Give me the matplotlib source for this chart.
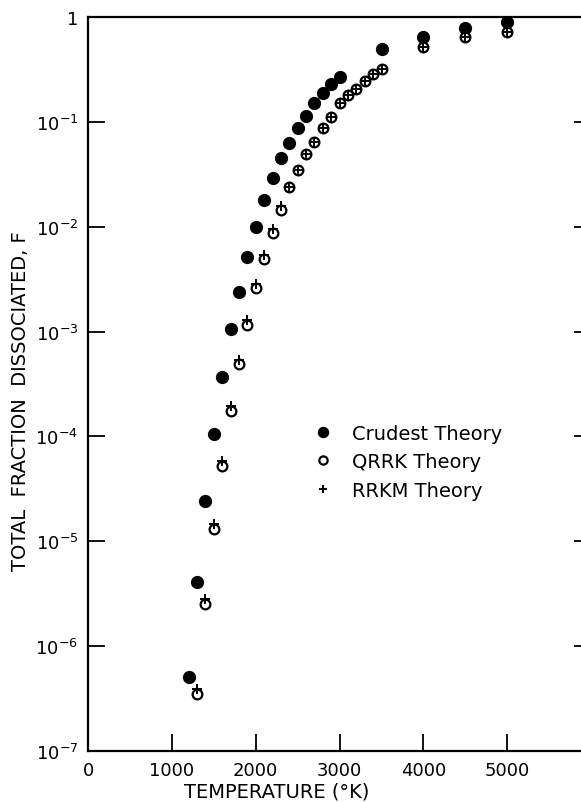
import matplotlib
matplotlib.use("Agg")
import matplotlib.pyplot as plt
from matplotlib.ticker import FixedLocator, NullLocator

# Crudest theory (filled circles)
t_crude = [1200, 1300, 1400, 1500, 1600, 1700, 1800, 1900, 2000, 2100, 2200,
           2300, 2400, 2500, 2600, 2700, 2800, 2900, 3000, 3500, 4000, 4500, 5000]
f_crude = [5.1e-7, 4.1e-6, 2.4e-5, 1.05e-4, 3.7e-4, 1.05e-3, 2.4e-3, 5.1e-3,
           1.0e-2, 1.8e-2, 2.9e-2, 4.5e-2, 6.3e-2, 8.7e-2, 0.114, 0.151, 0.19,
           0.23, 0.27, 0.50, 0.64, 0.79, 0.89]

# QRRK theory (open circles)
t_qrrk = [1300, 1400, 1500, 1600, 1700, 1800, 1900, 2000, 2100, 2200, 2300,
          2400, 2500, 2600, 2700, 2800, 2900, 3000, 3100, 3200, 3300, 3400,
          3500, 4000, 4500, 5000]
f_qrrk = [3.5e-7, 2.5e-6, 1.3e-5, 5.2e-5, 1.74e-4, 4.9e-4, 1.15e-3, 2.6e-3,
          4.9e-3, 8.7e-3, 1.44e-2, 2.4e-2, 3.5e-2, 4.9e-2, 6.4e-2, 8.7e-2,
          0.111, 0.151, 0.18, 0.205, 0.245, 0.285, 0.32, 0.52, 0.64, 0.72]

# RRKM theory (plus signs)
t_rrkm = t_qrrk
f_rrkm = [3.9e-7, 2.8e-6, 1.45e-5, 5.8e-5, 1.95e-4, 5.4e-4, 1.28e-3, 2.85e-3,
          5.4e-3, 9.5e-3, 1.58e-2, 2.4e-2, 3.5e-2, 4.9e-2, 6.4e-2, 8.7e-2,
          0.111, 0.151, 0.18, 0.205, 0.245, 0.285, 0.32, 0.52, 0.64, 0.72]

x_ticks = [0, 1000, 2000, 3000, 4000, 5000, 6000]
x_labels = ["0", "1000", "2000", "3000", "4000", "5000", ""]
y_ticks = [1e-7, 1e-6, 1e-5, 1e-4, 1e-3, 1e-2, 1e-1, 1]
y_labels = [r"$10^{-7}$", r"$10^{-6}$", r"$10^{-5}$", r"$10^{-4}$",
            r"$10^{-3}$", r"$10^{-2}$", r"$10^{-1}$", "1"]

plt.rcParams["font.family"] = "DejaVu Sans"
plt.rcParams["mathtext.fontset"] = "dejavusans"

fig = plt.figure(figsize=(5.81, 8.03), dpi=100)
# right edge of the axes sits just past the figure edge, like the cropped scan
ax = fig.add_axes([0.1515, 0.0635, 0.866, 0.9141])

ax.plot(t_crude, f_crude, "o", color="black", markersize=8.5, label="Crudest Theory")
ax.plot(t_qrrk, f_qrrk, "o", markerfacecolor="white", markeredgecolor="black",
        markeredgewidth=1.6, markersize=7, label="QRRK Theory")
ax.plot(t_rrkm, f_rrkm, "+", color="black", markersize=7, markeredgewidth=1.4,
        label="RRKM Theory")

ax.set_yscale("log")
ax.set_xlim(0, 6000)
ax.set_ylim(1e-7, 1)

ax.xaxis.set_major_locator(FixedLocator(x_ticks))
ax.set_xticklabels(x_labels)
ax.yaxis.set_major_locator(FixedLocator(y_ticks))
ax.yaxis.set_minor_locator(NullLocator())
ax.set_yticklabels(y_labels)

ax.tick_params(axis="both", direction="in", length=12, width=1.3, labelsize=13,
               color="black")
ax.tick_params(axis="y", right=True, pad=7)
ax.tick_params(axis="x", pad=7)

for side in ["left", "bottom", "top"]:
    ax.spines[side].set_linewidth(1.6)
ax.spines["right"].set_visible(False)

fig.text(277 / 581, 1 - 792 / 803, "TEMPERATURE (°K)", fontsize=14,
         ha="center", va="center")
fig.text(21 / 581, 1 - 401 / 803, "TOTAL  FRACTION  DISSOCIATED, F", fontsize=14,
         rotation=90, ha="center", va="center")

ax.legend(loc="upper left", bbox_to_anchor=(0.412, 0.47), frameon=False,
          fontsize=14, handlelength=1.0, handletextpad=1.0, labelspacing=0.5,
          markerscale=0.85)

fig.savefig("out.png", dpi=100)
